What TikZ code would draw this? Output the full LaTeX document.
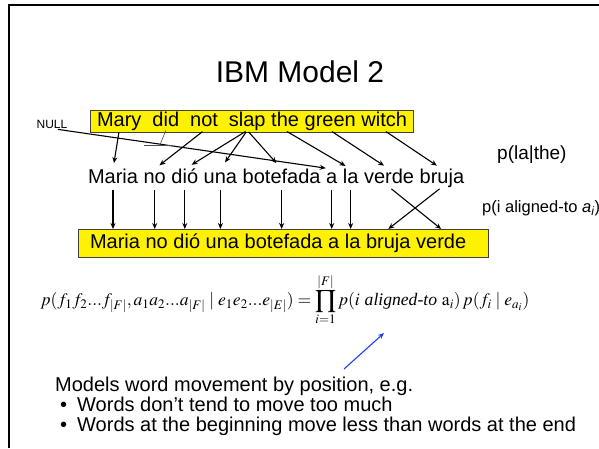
\documentclass[tikz,border=0pt]{standalone}
\usepackage{mathptmx}
\usepackage[no-math]{fontspec}
\setmainfont{Liberation Sans}
\newfontfamily\serifit{Liberation Serif}[ItalicFont=* Italic]
\usetikzlibrary{arrows.meta,positioning,calc}

\definecolor{ptrblue}{RGB}{30,60,250}
\tikzset{
  word/.style={inner sep=0pt, outer sep=0pt, text height=14pt, text depth=4pt,
    font=\fontsize{20}{24}\selectfont},
  ybox/.style={draw=black!75, fill=yellow, inner sep=0pt, line width=0.8pt},
  note/.style={inner sep=0pt, font=\fontsize{18}{22}\selectfont},
  body/.style={inner sep=0pt, font=\fontsize{20}{24}\selectfont},
  link/.style={-{Stealth[length=6pt,width=5pt]}, line width=1.1pt},
  ptr/.style={link, ptrblue}
}

\begin{document}
\begin{tikzpicture}[x=1pt, y=-1pt]
  \useasboundingbox (0,0) rectangle (599,448);
  % slide frame
  \draw[line width=2.2pt] (9,448) -- (9,5) -- (599,5);

  \node[font=\fontsize{30}{36}\selectfont] (title) at (300,72) {IBM Model 2};

  % english sentence
  \node[ybox, minimum width=323pt, minimum height=22pt, anchor=north west] (topbox) at (90,110) {};
  \node[word, right=7pt of topbox.west] (tMary) {Mary};
  \node[word, right=11pt of tMary] (tDid) {did};
  \node[word, right=11pt of tDid] (tNot) {not};
  \node[word, right=11pt of tNot] (tSlap) {slap};
  \node[word, right=5.6pt of tSlap] (tThe) {the};
  \node[word, right=5.6pt of tThe] (tGreen) {green};
  \node[word, right=5.6pt of tGreen] (tWitch) {witch};
  \node[inner sep=0pt, font=\fontsize{12}{14}\selectfont] (null) at (52,124) {NULL};

  % spanish words, english order
  \node[word, anchor=base west] (mMaria) at (88,183) {Maria};
  \node[word, right=5.6pt of mMaria] (mNo) {no};
  \node[word, right=5.6pt of mNo] (mDio) {dió};
  \node[word, right=5.6pt of mDio] (mUna) {una};
  \node[word, right=5.6pt of mUna] (mBote) {botefada};
  \node[word, right=5.6pt of mBote] (mA) {a};
  \node[word, right=5.6pt of mA] (mLa) {la};
  \node[word, right=5.6pt of mLa] (mVerde) {verde};
  \node[word, right=5.6pt of mVerde] (mBruja) {bruja};

  % spanish sentence
  \node[ybox, minimum width=410pt, minimum height=28pt, anchor=north west] (botbox) at (78,229) {};
  \node[word, right=12pt of botbox.west] (bMaria) {Maria};
  \node[word, right=5.6pt of bMaria] (bNo) {no};
  \node[word, right=5.6pt of bNo] (bDio) {dió};
  \node[word, right=5.6pt of bDio] (bUna) {una};
  \node[word, right=5.6pt of bUna] (bBote) {botefada};
  \node[word, right=5.6pt of bBote] (bA) {a};
  \node[word, right=5.6pt of bA] (bLa) {la};
  \node[word, right=5.6pt of bLa] (bBruja) {bruja};
  \node[word, right=5.6pt of bBruja] (bVerde) {verde};

  % fertility / translation links
  \draw[link, shorten <=2pt, shorten >=6pt] (tMary.south) -- (mMaria.north);
  \draw[link, shorten <=2pt, shorten >=6pt] (tNot.south) -- (mNo.north);
  \foreach \w in {mDio,mUna,mBote}
    \draw[link, shorten <=2pt, shorten >=8pt] (tSlap.south) -- (\w.north);
  \draw[link, shorten <=2pt, shorten >=6pt] (tThe.south) -- (mLa.north);
  \draw[link, shorten <=2pt, shorten >=6pt] (tGreen.south) -- (mVerde.north);
  \draw[link, shorten <=2pt, shorten >=6pt] (tWitch.south) -- (mBruja.north);
  \draw[link, shorten >=6pt] ($(null.south)+(6,1)$) -- (mA.north);
  % "did" is dropped
  \coordinate[below left=15pt and 6pt of tDid.south] (gnd);
  \draw[line width=0.6pt, black!70] (tDid.south) -- (gnd);
  \draw[line width=0.6pt, black!70] ([xshift=-16pt]gnd) -- ([xshift=13pt]gnd);

  % distortion
  \foreach \w in {mMaria,mNo,mDio,mUna,mBote,mA,mLa}
    \draw[link, shorten <=3pt] (\w.south) -- (\w.south |- botbox.north);
  \draw[link, shorten <=3pt] (mVerde.south) -- (bVerde |- botbox.north);
  \draw[link, shorten <=3pt] (mBruja.south) -- (bBruja |- botbox.north);

  \node[note, anchor=west, font=\fontsize{19}{22}\selectfont] (plathe) at (497,155) {p(la|the)};
  \node[note, anchor=west, font=\fontsize{16.5}{20}\selectfont] (palign) at (482,208)
    {p(i aligned-to {\itshape a\textsubscript{i}})};

  \node[inner sep=0pt, font=\fontsize{17.6}{21}\selectfont] (formula) at (285,300)
    {$\displaystyle p(f_1f_2...f_{|F|},a_1a_2...a_{|F|}\mid e_1e_2...e_{|E|})
      = \prod_{i=1}^{|F|} p(i\ \mbox{\serifit\itshape aligned-to}\ \mathrm{a}_i)\,p(f_i\mid e_{a_i})$};

  \coordinate (tip) at (384,333);
  \coordinate (tail) at (344,369);
  \draw[ptr] (tail) -- (tip);

  \node[body, anchor=base west] (movtext) at (55,391) {Models word movement by position, e.g.};
  \node[body, anchor=base west] (bul1) at (60,411) {\makebox[17pt][l]{•}Words don’t tend to move too much};
  \node[body, anchor=base west] (bul2) at (60,431) {\makebox[17pt][l]{•}Words at the beginning move less than words at the end};
\end{tikzpicture}
\end{document}
